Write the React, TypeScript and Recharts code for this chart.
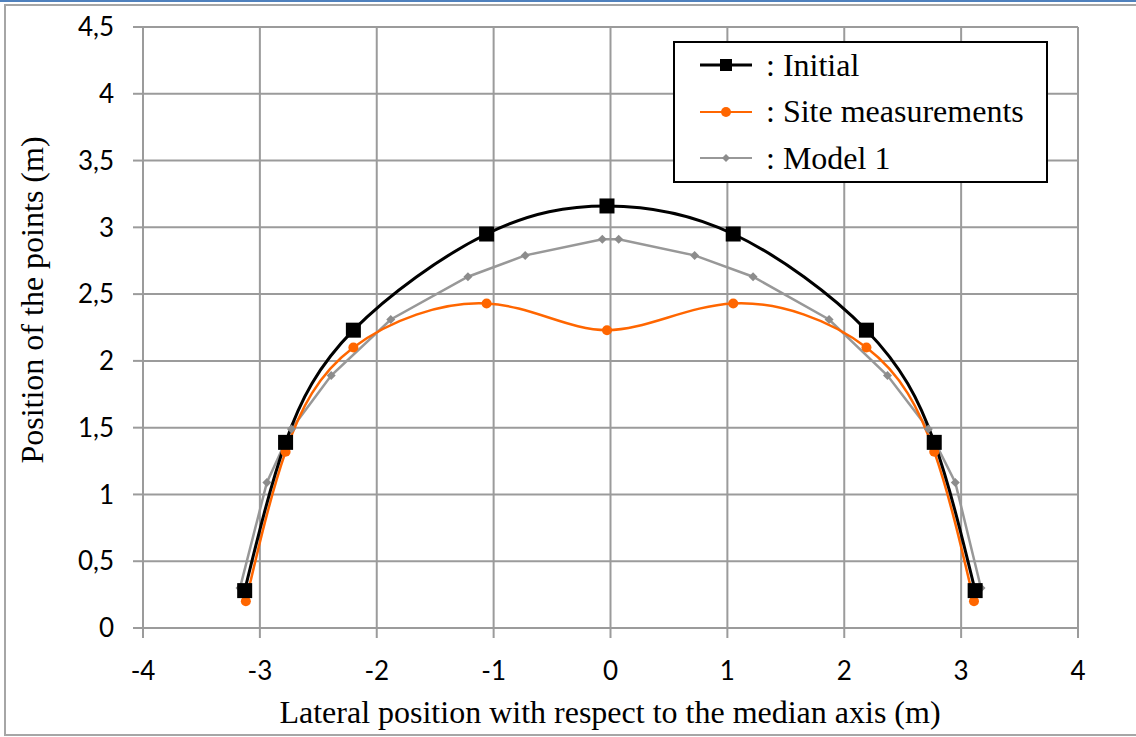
import React from "react";
import {
  LineChart,
  Line,
  XAxis,
  YAxis,
  CartesianGrid,
  Legend,
  Label,
} from "recharts";

// Initial profile
const initialX = [-3.13, -2.78, -2.2, -1.06, -0.03, 1.05, 2.19, 2.77, 3.12];
const initialY = [0.28, 1.39, 2.23, 2.95, 3.16, 2.95, 2.23, 1.39, 0.28];

// Site measurements
const siteX = [-3.12, -2.78, -2.2, -1.06, -0.03, 1.05, 2.19, 2.77, 3.11];
const siteY = [0.2, 1.32, 2.1, 2.43, 2.23, 2.43, 2.1, 1.32, 0.2];

// Model 1
const modelX = [
  -3.17, -2.94, -2.73, -2.39, -1.88, -1.22, -0.73, -0.07, 0.07, 0.72, 1.22,
  1.87, 2.37, 2.72, 2.95, 3.17,
];
const modelY = [
  0.3, 1.09, 1.49, 1.89, 2.31, 2.63, 2.79, 2.91, 2.91, 2.79, 2.63, 2.31, 1.89,
  1.49, 1.09, 0.3,
];

const xTicks = [-4, -3, -2, -1, 0, 1, 2, 3, 4];
const yTicks = [0, 0.5, 1, 1.5, 2, 2.5, 3, 3.5, 4, 4.5];

const seriesNames = [": Initial", ": Site measurements", ": Model 1"];

const toPoints = (xs: number[], ys: number[]) =>
  xs.map((x, i) => ({ x, y: ys[i] }));

const GRID = "#9b9b9b";
const ORANGE = "#ff6600";
const GRAY = "#989898";
const SERIF = '"Liberation Serif", "Times New Roman", serif';
const SANS = 'Lato, "Open Sans", sans-serif';

const SquareDot = (p: any) => (
  <rect key={p.key} x={p.cx - 7.5} y={p.cy - 7.5} width={15} height={15} fill="#000" />
);
const CircleDot = (p: any) => (
  <circle key={p.key} cx={p.cx} cy={p.cy} r={5} fill={ORANGE} />
);
const DiamondDot = (p: any) => (
  <polygon
    key={p.key}
    points={`${p.cx},${p.cy - 4.5} ${p.cx + 4.5},${p.cy} ${p.cx},${p.cy + 4.5} ${p.cx - 4.5},${p.cy}`}
    fill="#8c8c8c"
  />
);

const LegendBox = () => {
  const rows = [
    { color: "#000", width: 3, marker: <rect x={20} y={-6} width={12} height={12} fill="#000" /> },
    { color: ORANGE, width: 2, marker: <circle cx={26} cy={0} r={5} fill={ORANGE} /> },
    {
      color: GRAY,
      width: 2,
      marker: <polygon points="26,-4 30,0 26,4 22,0" fill="#8c8c8c" />,
    },
  ];
  return (
    <div
      style={{
        position: "relative",
        width: 375,
        height: 142,
        border: "2px solid #000",
        boxSizing: "border-box",
        background: "#fff",
      }}
    >
      {rows.map((r, i) => (
        <div
          key={i}
          style={{
            position: "absolute",
            left: 25,
            top: 22 + i * 46.5 - 20,
            height: 40,
            display: "flex",
            alignItems: "center",
          }}
        >
          <svg width={54} height={20} viewBox="0 -10 54 20">
            <line x1={0} y1={0} x2={52} y2={0} stroke={r.color} strokeWidth={r.width} />
            {r.marker}
          </svg>
          <span
            style={{
              marginLeft: 12,
              fontFamily: SERIF,
              fontSize: 32,
              color: "#000",
              whiteSpace: "nowrap",
            }}
          >
            {seriesNames[i]}
          </span>
        </div>
      ))}
    </div>
  );
};

export default function App() {
  return (
    <div
      style={{
        position: "absolute",
        left: 0,
        top: 0,
        width: 1136,
        height: 737,
        background: "#fff",
        overflow: "hidden",
      }}
    >
      <div
        style={{
          position: "absolute",
          left: 0,
          top: 0,
          width: 1136,
          height: 2,
          background: "#4f81bd",
        }}
      />
      <div
        style={{
          position: "absolute",
          left: 4,
          top: 4,
          width: 1150,
          height: 732,
          border: "2px solid #a6a6a6",
          boxSizing: "border-box",
        }}
      />
      <LineChart
        width={1136}
        height={737}
        margin={{ top: 27, right: 58, left: 0, bottom: 0 }}
        style={{ position: "absolute", left: 0, top: 0 }}
      >
        <CartesianGrid stroke={GRID} strokeWidth={2} />
        <XAxis
          type="number"
          dataKey="x"
          domain={[-4, 4]}
          ticks={xTicks}
          height={109}
          stroke={GRID}
          strokeWidth={2}
          tickSize={10}
          tickMargin={24}
          tick={{ fill: "#000", fontSize: 26, fontFamily: SANS }}
          allowDuplicatedCategory={false}
        >
          <Label
            content={() => (
              <text
                x={610}
                y={723}
                textAnchor="middle"
                fontFamily={SERIF}
                fontSize={32}
                fill="#000"
              >
                Lateral position with respect to the median axis (m)
              </text>
            )}
          />
        </XAxis>
        <YAxis
          type="number"
          dataKey="y"
          domain={[0, 4.5]}
          ticks={yTicks}
          width={143}
          stroke={GRID}
          strokeWidth={2}
          tickSize={10}
          tickMargin={19}
          tick={{ fill: "#000", fontSize: 26, fontFamily: SANS }}
          tickFormatter={(v: number) => String(v).replace(".", ",")}
        >
          <Label
            content={() => (
              <text
                x={32}
                y={300}
                transform="rotate(-90 32 300)"
                textAnchor="middle"
                dominantBaseline="central"
                fontFamily={SERIF}
                fontSize={32}
                fill="#000"
              >
                Position of the points (m)
              </text>
            )}
          />
        </YAxis>
        <Legend
          layout="vertical"
          align="center"
          verticalAlign="middle"
          content={() => <LegendBox />}
          wrapperStyle={{ left: 673, top: 41, width: 375, height: 142 }}
        />
        <Line
          data={toPoints(modelX, modelY)}
          dataKey="y"
          type="linear"
          stroke={GRAY}
          strokeWidth={2.5}
          dot={DiamondDot}
          activeDot={false}
          isAnimationActive={false}
        />
        <Line
          data={toPoints(siteX, siteY)}
          dataKey="y"
          type="natural"
          stroke={ORANGE}
          strokeWidth={2.5}
          dot={CircleDot}
          activeDot={false}
          isAnimationActive={false}
        />
        <Line
          data={toPoints(initialX, initialY)}
          dataKey="y"
          type="natural"
          stroke="#000"
          strokeWidth={3}
          dot={SquareDot}
          activeDot={false}
          isAnimationActive={false}
        />
      </LineChart>
    </div>
  );
}
